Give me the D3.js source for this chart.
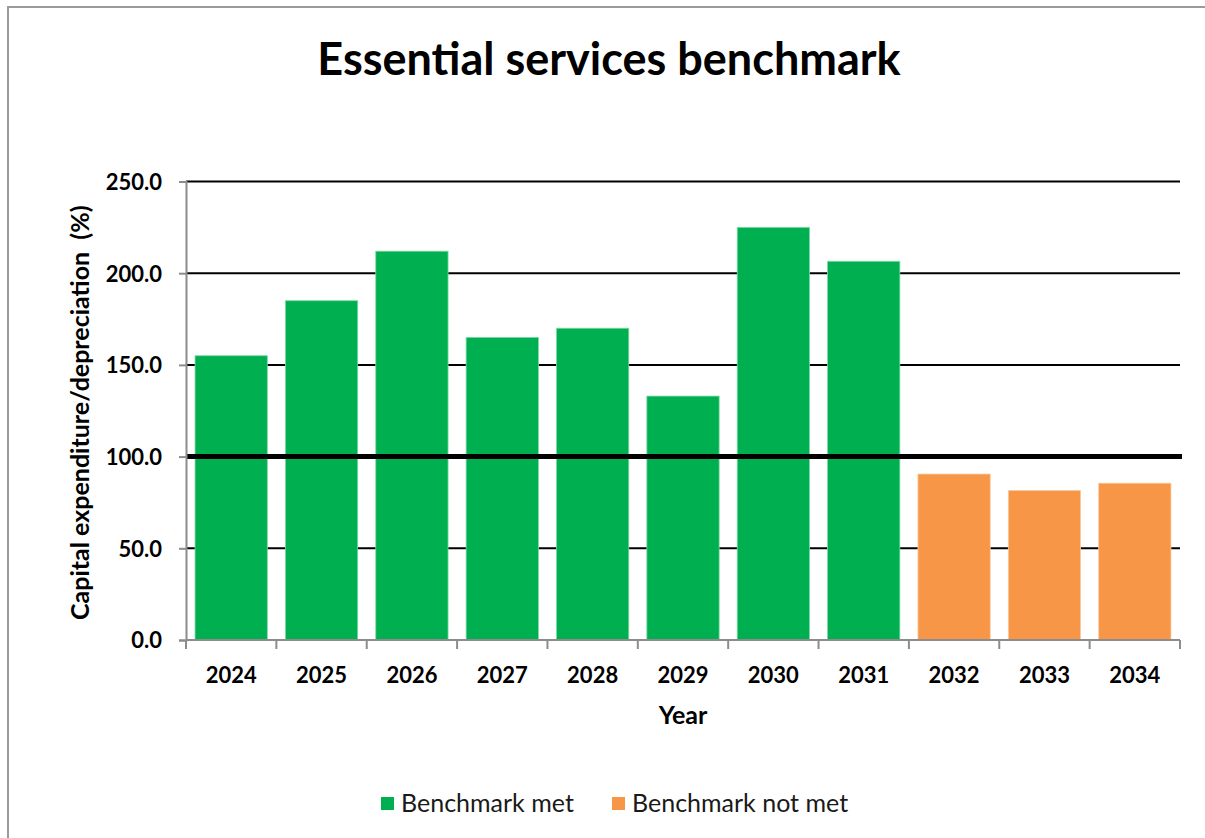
<!DOCTYPE html>
<html>
<head>
<meta charset="utf-8">
<script src="https://cdn.jsdelivr.net/npm/d3@7"></script>
<style>
  html, body { margin: 0; padding: 0; background: #fff; }
  svg { display: block; font-family: Lato, "Open Sans", sans-serif; }
</style>
</head>
<body>
<svg id="chart" width="1205" height="838"></svg>
<script>
// Capital expenditure as a share of depreciation, by financial year
const years = ["2024", "2025", "2026", "2027", "2028", "2029", "2030", "2031", "2032", "2033", "2034"];
const ratios = [155, 185, 212, 165, 170, 133, 225, 206.5, 90.5, 81.5, 85.5];
const benchmark = 100;
const yTicks = [0, 50, 100, 150, 200, 250];
const seriesNames = ["Benchmark met", "Benchmark not met"];
const seriesColors = ["#00B050", "#F79646"];
const seriesEdges = ["#7FD8A7", "#FBCBA2"];

const svg = d3.select("#chart");
const W = 1205, H = 838;
const plot = { left: 186, right: 1180, top: 181.5, bottom: 640 };

// outer frame (the chart area runs past the right/bottom edge)
svg.append("path")
  .attr("d", `M8,${H} L8,7 L${W},7`)
  .attr("fill", "none")
  .attr("stroke", "#9a9a9a")
  .attr("stroke-width", 2);

const x = d3.scaleBand().domain(years).range([plot.left, plot.right])
  .paddingInner(0.2).paddingOuter(0.1);
const y = d3.scaleLinear().domain([0, 250]).range([plot.bottom, plot.top]);

// horizontal gridlines (the benchmark line is drawn separately, above the bars)
svg.append("g").selectAll("line")
  .data(yTicks.filter(t => t > 0 && t !== benchmark))
  .join("line")
  .attr("x1", plot.left).attr("x2", plot.right)
  .attr("y1", d => y(d)).attr("y2", d => y(d))
  .attr("stroke", "#000").attr("stroke-width", 2);

// bars, coloured by whether the benchmark is met
const data = years.map((yr, i) => ({ year: yr, value: ratios[i], met: ratios[i] >= benchmark }));
svg.append("g").selectAll("rect")
  .data(data)
  .join("rect")
  .attr("x", d => x(d.year))
  .attr("width", x.bandwidth())
  .attr("y", d => y(d.value))
  .attr("height", d => y(0) - y(d.value))
  .attr("fill", d => d.met ? seriesColors[0] : seriesColors[1])
  .attr("stroke", d => d.met ? seriesEdges[0] : seriesEdges[1])
  .attr("stroke-width", 0.8);

// benchmark line at 100%
svg.append("line")
  .attr("x1", plot.left).attr("x2", plot.right + 2)
  .attr("y1", y(benchmark)).attr("y2", y(benchmark))
  .attr("stroke", "#000").attr("stroke-width", 5);

// y axis
const yAxis = d3.axisLeft(y).tickValues(yTicks).tickFormat(d3.format(".1f"))
  .tickSize(7).tickPadding(17);
const gy = svg.append("g").attr("transform", `translate(${plot.left},0)`).call(yAxis);
gy.select(".domain").attr("stroke", "#8c8c8c").attr("stroke-width", 2);
gy.selectAll(".tick line").attr("stroke", "#8c8c8c").attr("stroke-width", 2);
gy.selectAll(".tick text")
  .attr("fill", "#000").attr("font-size", 22).attr("font-weight", 700)
  .attr("font-family", "Lato, 'Open Sans', sans-serif")
  .attr("dy", "0.36em");

// x axis: ticks sit on the category boundaries
const gx = svg.append("g").attr("transform", `translate(0,${plot.bottom})`);
gx.append("line")
  .attr("x1", plot.left).attr("x2", plot.right)
  .attr("stroke", "#8c8c8c").attr("stroke-width", 2);
const bounds = years.map(yr => x(yr) - x.step() * x.paddingInner() / 2);
bounds[0] = plot.left;
bounds.push(plot.right);
gx.selectAll("line.tk").data(bounds).join("line").attr("class", "tk")
  .attr("x1", d => d).attr("x2", d => d).attr("y1", 0).attr("y2", 9)
  .attr("stroke", "#8c8c8c").attr("stroke-width", 2);
gx.selectAll("text").data(years).join("text")
  .attr("x", d => x(d) + x.bandwidth() / 2)
  .attr("y", 43)
  .attr("text-anchor", "middle")
  .attr("font-size", 22).attr("font-weight", 700)
  .text(d => d);

// axis titles
svg.append("text")
  .attr("x", (plot.left + plot.right) / 2).attr("y", 724)
  .attr("text-anchor", "middle")
  .attr("font-size", 25).attr("font-weight", 700)
  .text("Year");

svg.append("text")
  .attr("transform", `translate(89,${(plot.top + plot.bottom) / 2 + 2}) rotate(-90)`)
  .attr("text-anchor", "middle")
  .attr("font-size", 25).attr("font-weight", 700)
  .attr("xml:space", "preserve")
  .style("white-space", "pre")
  .text("Capital expenditure/depreciation  (%)");

// chart title
svg.append("text")
  .attr("x", 609).attr("y", 75)
  .attr("text-anchor", "middle")
  .attr("font-size", 45).attr("font-weight", 700)
  .text("Essential services benchmark");

// legend
const legend = svg.append("g");
const legendX = [381, 612];
seriesNames.forEach((name, i) => {
  legend.append("rect")
    .attr("x", legendX[i]).attr("y", 797)
    .attr("width", 13).attr("height", 13)
    .attr("fill", seriesColors[i]);
  legend.append("text")
    .attr("x", legendX[i] + 20).attr("y", 812)
    .attr("font-size", 25)
    .attr("fill", "#1a1a1a")
    .text(name);
});
</script>
</body>
</html>
